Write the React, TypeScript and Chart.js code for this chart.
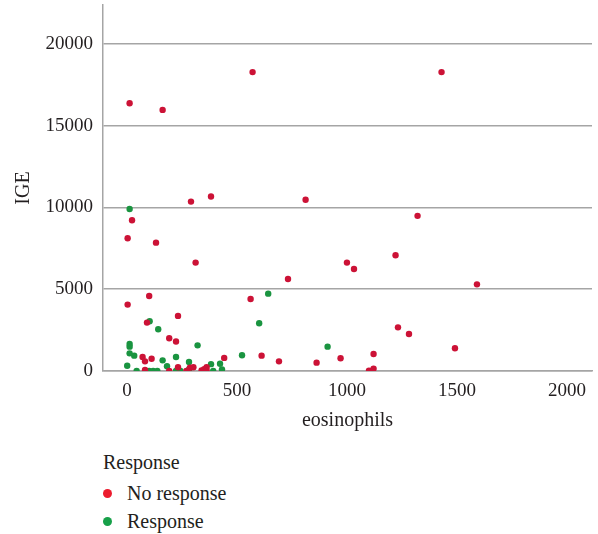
import React, { useEffect, useRef } from "react";
import { Chart, registerables } from "chart.js";

Chart.register(...registerables);

const seriesNames = ["No response", "Response"];
const seriesColors = ["#cc1236", "#1a9440"];
const legendColors = ["#ec1c2e", "#17a049"];

const noResponseX = [12, 162, 571, 1430, 291, 382, 812, 23, 3, 132, 312, 1321, 1221, 1000, 1032, 732, 1591, 562, 101, 3, 232, 91, 1232, 1282, 1491, 192, 223, 71, 82, 112, 232, 82, 192, 270, 286, 302, 339, 351, 362, 362, 442, 612, 691, 862, 971, 1121, 1100, 1121];
const noResponseY = [16380, 15970, 18280, 18280, 10360, 10670, 10470, 9220, 8120, 7850, 6630, 9490, 7080, 6630, 6240, 5630, 5300, 4400, 4590, 4060, 3370, 2960, 2670, 2260, 1390, 2000, 1800, 860, 590, 750, 230, 60, 0, 0, 200, 230, 30, 110, 240, 30, 800, 940, 590, 510, 780, 1040, 20, 140];

const responseX = [12, 642, 103, 142, 601, 912, 321, 12, 12, 12, 33, 162, 223, 282, 182, 1, 44, 101, 119, 138, 223, 243, 282, 382, 392, 423, 432, 523];
const responseY = [9910, 4730, 3040, 2550, 2920, 1490, 1570, 1650, 1490, 1080, 940, 650, 860, 550, 290, 320, 0, 0, 0, 0, 0, 0, 100, 420, 0, 440, 100, 960];

const xTicks = [0, 500, 1000, 1500, 2000];
const yTicks = [0, 5000, 10000, 15000, 20000];

const FONT = "'Liberation Serif', 'DejaVu Serif', serif";
const TEXT = "#231f20";
const GRID = "#a5a5a5";

export default function App() {
  const ref = useRef<HTMLCanvasElement | null>(null);

  useEffect(() => {
    if (!ref.current) return;
    const toPts = (xs: number[], ys: number[]) => xs.map((x, i) => ({ x, y: ys[i] }));
    const chart = new Chart(ref.current, {
      type: "scatter",
      data: {
        datasets: [
          {
            label: seriesNames[0],
            data: toPts(noResponseX, noResponseY),
            backgroundColor: seriesColors[0],
            borderColor: seriesColors[0],
            borderWidth: 0,
            pointRadius: 3.2,
          },
          {
            label: seriesNames[1],
            data: toPts(responseX, responseY),
            backgroundColor: seriesColors[1],
            borderColor: seriesColors[1],
            borderWidth: 0,
            pointRadius: 3.2,
          },
        ],
      },
      options: {
        animation: false,
        responsive: false,
        maintainAspectRatio: false,
        layout: { padding: { top: 5, right: 6, left: 0, bottom: 0 } },
        plugins: { legend: { display: false }, tooltip: { enabled: false } },
        scales: {
          x: {
            type: "linear",
            min: -109,
            max: 2114,
            afterBuildTicks: (s: any) => {
              s.ticks = xTicks.map((v) => ({ value: v }));
            },
            afterFit: (s: any) => {
              s.height = 70;
              s.paddingLeft = 0;
              s.paddingRight = 0;
            },
            grid: { display: false, drawTicks: false },
            border: { display: true, color: GRID, width: 1.5 },
            ticks: {
              padding: 9,
              color: TEXT,
              font: { family: FONT, size: 19 },
              maxRotation: 0,
              callback: (v: any) => String(v),
            },
            title: {
              display: true,
              text: "eosinophils",
              color: TEXT,
              font: { family: FONT, size: 20 },
              padding: { top: 0, bottom: 8 },
            },
          },
          y: {
            type: "linear",
            min: 0,
            max: 22385,
            afterBuildTicks: (s: any) => {
              s.ticks = yTicks.map((v) => ({ value: v }));
            },
            afterFit: (s: any) => {
              s.width = 103;
              s.paddingTop = 0;
              s.paddingBottom = 0;
            },
            grid: { display: true, color: GRID, lineWidth: 1.5, drawTicks: false },
            border: { display: true, color: GRID, width: 1.5 },
            ticks: {
              padding: 10,
              color: TEXT,
              font: { family: FONT, size: 19 },
              callback: (v: any) => String(v),
            },
            title: {
              display: true,
              text: "IGE",
              color: TEXT,
              font: { family: FONT, size: 20 },
              padding: { top: 12, bottom: 0 },
            },
          },
        },
      },
    });
    return () => chart.destroy();
  }, []);

  const legendItem = (i: number, top: number) => (
    <div
      key={i}
      style={{
        position: "absolute",
        left: 103,
        top: top - 14,
        height: 28,
        display: "flex",
        alignItems: "center",
      }}
    >
      <span
        style={{
          display: "inline-block",
          width: 9,
          height: 9,
          borderRadius: "50%",
          background: legendColors[i],
          marginRight: 15,
        }}
      />
      <span style={{ fontFamily: FONT, fontSize: 20, color: TEXT, lineHeight: "28px" }}>{seriesNames[i]}</span>
    </div>
  );

  return (
    <div style={{ position: "absolute", left: 0, top: 0, width: 598, height: 534, background: "#fff" }}>
      <canvas ref={ref} width={598} height={441} style={{ position: "absolute", left: 0, top: 0 }} />
      <div
        style={{
          position: "absolute",
          left: 103,
          top: 448,
          height: 28,
          lineHeight: "28px",
          fontFamily: FONT,
          fontSize: 20,
          color: TEXT,
        }}
      >
        Response
      </div>
      {legendItem(0, 493)}
      {legendItem(1, 521)}
    </div>
  );
}
